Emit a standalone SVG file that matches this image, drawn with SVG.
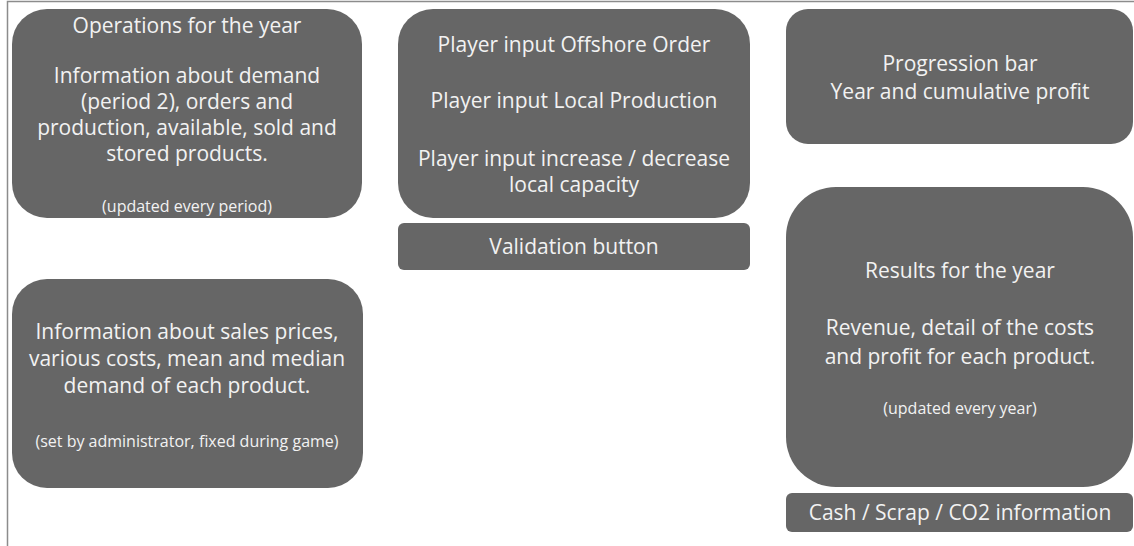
<svg xmlns="http://www.w3.org/2000/svg" width="1134" height="546" viewBox="0 0 1134 546">
<style>
.box{fill:#666666;}
.t{font-family:"Open Sans","Liberation Sans",sans-serif;font-size:21px;fill:#f2f2f2;text-anchor:middle;}
.s{font-family:"Open Sans","Liberation Sans",sans-serif;font-size:16px;fill:#f2f2f2;text-anchor:middle;}
.frame{stroke:#8c8c8c;stroke-width:1.5;fill:none;}
</style>
<rect width="1134" height="546" fill="#ffffff"/>
<path class="frame" d="M7.5,546 V1.5 H1134"/>
<g id="operations">
<rect class="box" x="12" y="9" width="350" height="209" rx="35"/>
<text class="t" x="187" y="33">Operations for the year</text>
<text class="t" x="187" y="83">Information about demand</text>
<text class="t" x="187" y="109">(period 2), orders and</text>
<text class="t" x="187" y="135">production, available, sold and</text>
<text class="t" x="187" y="161">stored products.</text>
<text class="s" x="187" y="212">(updated every period)</text>
</g>
<g id="player-input">
<rect class="box" x="398" y="9" width="352" height="209" rx="35"/>
<text class="t" x="574" y="52">Player input Offshore Order</text>
<text class="t" x="574" y="108">Player input Local Production</text>
<text class="t" x="574" y="166">Player input increase / decrease</text>
<text class="t" x="574" y="192">local capacity</text>
</g>
<g id="validation">
<rect class="box" x="398" y="223" width="352" height="47" rx="6"/>
<text class="t" x="574" y="254">Validation button</text>
</g>
<g id="progression">
<rect class="box" x="786" y="9" width="347" height="135" rx="22"/>
<text class="t" x="960" y="71">Progression bar</text>
<text class="t" x="960" y="99">Year and cumulative profit</text>
</g>
<g id="sales-info">
<rect class="box" x="12" y="279" width="351" height="209" rx="35"/>
<text class="t" x="187" y="339">Information about sales prices,</text>
<text class="t" x="187" y="366">various costs, mean and median</text>
<text class="t" x="187" y="393">demand of each product.</text>
<text class="s" x="187" y="447">(set by administrator, fixed during game)</text>
</g>
<g id="results">
<rect class="box" x="786" y="187" width="347" height="300" rx="50"/>
<text class="t" x="960" y="278">Results for the year</text>
<text class="t" x="960" y="335">Revenue, detail of the costs</text>
<text class="t" x="960" y="364">and profit for each product.</text>
<text class="s" x="960" y="414">(updated every year)</text>
</g>
<g id="cash">
<rect class="box" x="786" y="493" width="347" height="39" rx="6"/>
<text class="t" x="960" y="520">Cash / Scrap / CO2 information</text>
</g>
<g id="connectors"></g>
</svg>
